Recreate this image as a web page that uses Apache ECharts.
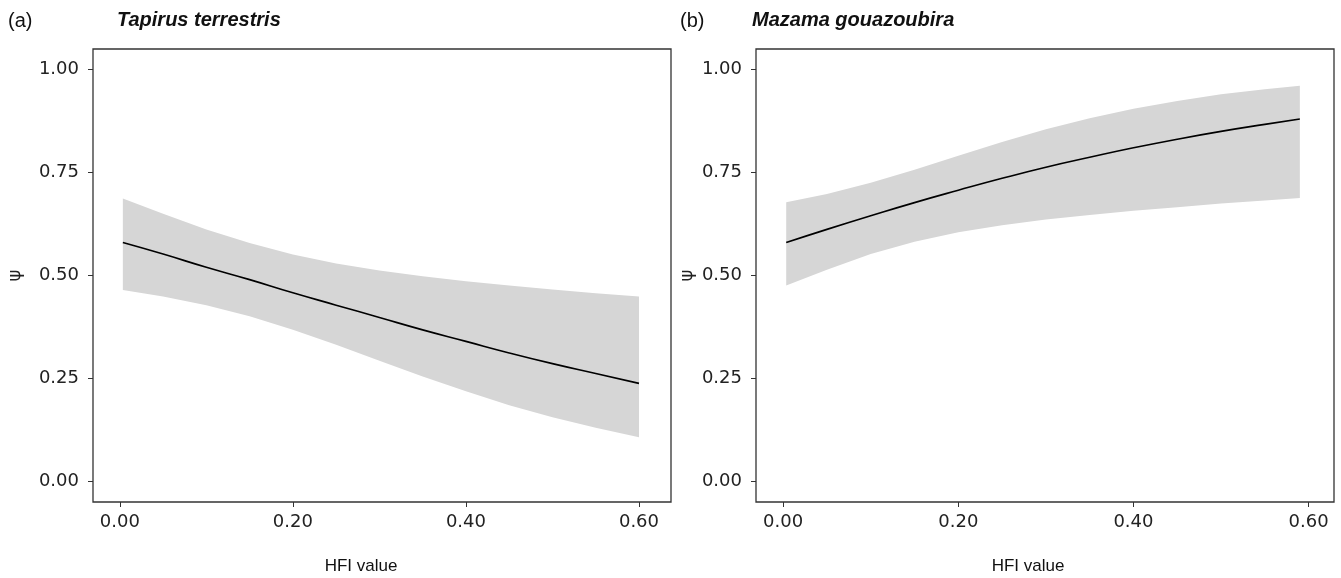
<!DOCTYPE html>
<html>
<head>
<meta charset="utf-8">
<script src="https://cdn.jsdelivr.net/npm/echarts@6/dist/echarts.min.js"></script>
<style>
  html, body { margin: 0; padding: 0; background: #fff; }
  #chart { width: 1341px; height: 578px; }
</style>
</head>
<body>
<div id="chart"></div>
<script>
// panel (a) Tapirus terrestris
const hfiA  = [0.0035, 0.05, 0.10, 0.15, 0.20, 0.25, 0.30, 0.35, 0.40, 0.45, 0.50, 0.55, 0.60];
const psiA  = [0.580, 0.552, 0.520, 0.490, 0.458, 0.428, 0.398, 0.368, 0.340, 0.312, 0.286, 0.262, 0.238];
const lowA  = [0.465, 0.449, 0.428, 0.401, 0.368, 0.332, 0.293, 0.255, 0.219, 0.185, 0.156, 0.130, 0.107];
const highA = [0.687, 0.650, 0.612, 0.579, 0.551, 0.529, 0.512, 0.498, 0.486, 0.476, 0.466, 0.457, 0.449];

// panel (b) Mazama gouazoubira
const hfiB  = [0.0035, 0.05, 0.10, 0.15, 0.20, 0.25, 0.30, 0.35, 0.40, 0.45, 0.50, 0.55, 0.59];
const psiB  = [0.580, 0.612, 0.645, 0.677, 0.707, 0.736, 0.763, 0.787, 0.810, 0.831, 0.850, 0.867, 0.880];
const lowB  = [0.476, 0.514, 0.552, 0.582, 0.605, 0.622, 0.636, 0.647, 0.657, 0.666, 0.675, 0.682, 0.688];
const highB = [0.678, 0.698, 0.725, 0.757, 0.791, 0.824, 0.855, 0.882, 0.905, 0.924, 0.940, 0.952, 0.961];

const xTicks = [0, 0.2, 0.4, 0.6];
const yTicks = [0, 0.25, 0.5, 0.75, 1];
const titles = ['Tapirus terrestris', 'Mazama gouazoubira'];
const panelTags = ['(a)', '(b)'];

const chart = echarts.init(document.getElementById('chart'));

const tickFont = { fontFamily: 'DejaVu Sans', fontSize: 18, color: '#222' };

function makeX(idx, min, max) {
  return {
    type: 'value', gridIndex: idx, min: min, max: max,
    axisLine: { show: false, onZero: false },
    splitLine: { show: false },
    axisTick: { show: true, length: 5, lineStyle: { color: '#333', width: 1 }, customValues: xTicks },
    axisLabel: Object.assign({ margin: 11, customValues: xTicks, formatter: v => v.toFixed(2) }, tickFont)
  };
}
function makeY(idx, gap) {
  return {
    type: 'value', gridIndex: idx, min: -0.05, max: 1.05,
    name: 'ψ', nameLocation: 'middle', nameGap: gap,
    nameTextStyle: { fontFamily: 'DejaVu Sans', fontSize: 18, color: '#222' },
    axisLine: { show: false, onZero: false },
    splitLine: { show: false },
    axisTick: { show: true, length: 5, lineStyle: { color: '#333', width: 1 }, customValues: yTicks },
    axisLabel: Object.assign({ margin: 14, customValues: yTicks, formatter: v => v.toFixed(2) }, tickFont)
  };
}
function zip(xs, ys) { return xs.map((x, i) => [x, ys[i]]); }

// confidence band drawn as one polygon through the axis scales
function bandSeries(idx, xs, lo, hi, mid) {
  return [
    {
      type: 'custom', xAxisIndex: idx, yAxisIndex: idx, silent: true,
      data: xs.map((x, i) => [x, lo[i], hi[i]]),
      renderItem: function (params, api) {
        if (params.dataIndex !== 0) return null;
        const pts = [];
        xs.forEach((x, i) => pts.push(api.coord([x, hi[i]])));
        for (let i = xs.length - 1; i >= 0; i--) pts.push(api.coord([xs[i], lo[i]]));
        return { type: 'polygon', shape: { points: pts }, style: { fill: '#d6d6d6' } };
      }
    },
    {
      type: 'line', xAxisIndex: idx, yAxisIndex: idx,
      data: zip(xs, mid), symbol: 'none', smooth: true,
      lineStyle: { color: '#000', width: 1.6 }
    }
  ];
}

const option = {
  backgroundColor: '#fff',
  animation: false,
  grid: [
    { left: 93, right: 670, top: 49, bottom: 76, show: true, borderColor: '#333', borderWidth: 1.3, outerBoundsMode: 'none' },
    { left: 756, right: 7, top: 49, bottom: 76, show: true, borderColor: '#333', borderWidth: 1.3, outerBoundsMode: 'none' }
  ],
  xAxis: [makeX(0, -0.031, 0.637), makeX(1, -0.031, 0.629)],
  yAxis: [makeY(0, 69), makeY(1, 60)],
  series: [].concat(
    bandSeries(0, hfiA, lowA, highA, psiA),
    bandSeries(1, hfiB, lowB, highB, psiB)
  ),
  graphic: [
    { type: 'text', left: 8, top: 11, style: { text: panelTags[0], font: '20px "Liberation Sans"', fill: '#111' } },
    { type: 'text', left: 117, top: 10, style: { text: titles[0], font: 'italic bold 20px "Liberation Sans"', fill: '#111' } },
    { type: 'text', left: 680, top: 11, style: { text: panelTags[1], font: '20px "Liberation Sans"', fill: '#111' } },
    { type: 'text', left: 752, top: 10, style: { text: titles[1], font: 'italic bold 20px "Liberation Sans"', fill: '#111' } },
    { type: 'text', x: 361, y: 566, style: { text: 'HFI value', font: '17px "Liberation Sans"', fill: '#111', align: 'center', verticalAlign: 'middle' } },
    { type: 'text', x: 1028, y: 566, style: { text: 'HFI value', font: '17px "Liberation Sans"', fill: '#111', align: 'center', verticalAlign: 'middle' } }
  ]
};

chart.setOption(option);
</script>
</body>
</html>
